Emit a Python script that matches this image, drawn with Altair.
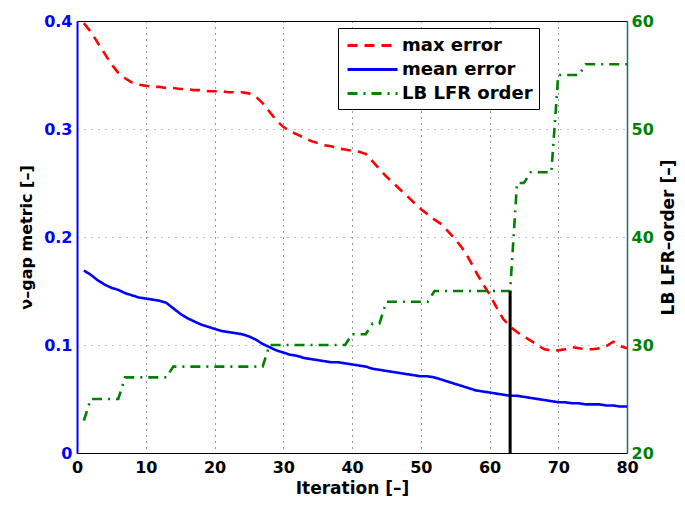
import altair as alt
import pandas as pd

iterations = list(range(1, 81))

max_error = [
    0.398, 0.390, 0.380, 0.370, 0.360, 0.352, 0.347, 0.343, 0.341, 0.340,
    0.339, 0.339, 0.338, 0.338, 0.337, 0.337, 0.336, 0.336, 0.335, 0.335,
    0.335, 0.334, 0.334, 0.334, 0.333, 0.330, 0.324, 0.316, 0.308, 0.302,
    0.298, 0.295, 0.292, 0.289, 0.287, 0.285, 0.284, 0.282, 0.281, 0.280,
    0.279, 0.277, 0.270, 0.263, 0.256, 0.250, 0.244, 0.238, 0.232, 0.226,
    0.221, 0.216, 0.212, 0.205, 0.198, 0.190, 0.180, 0.168, 0.157, 0.147,
    0.135, 0.124, 0.117, 0.112, 0.108, 0.104, 0.100, 0.096, 0.095, 0.095,
    0.096, 0.098, 0.097, 0.096, 0.096, 0.097, 0.099, 0.103, 0.099, 0.097,
]

mean_error = [
    0.169, 0.165, 0.160, 0.156, 0.153, 0.151, 0.148, 0.146, 0.144, 0.143,
    0.142, 0.141, 0.139, 0.134, 0.129, 0.125, 0.122, 0.119, 0.117, 0.115,
    0.113, 0.112, 0.111, 0.110, 0.108, 0.105, 0.101, 0.098, 0.095, 0.093,
    0.091, 0.090, 0.088, 0.087, 0.086, 0.085, 0.084, 0.084, 0.083, 0.082,
    0.081, 0.080, 0.078, 0.077, 0.076, 0.075, 0.074, 0.073, 0.072, 0.071,
    0.071, 0.070, 0.068, 0.066, 0.064, 0.062, 0.060, 0.058, 0.057, 0.056,
    0.055, 0.054, 0.053, 0.053, 0.052, 0.051, 0.050, 0.049, 0.048, 0.047,
    0.047, 0.046, 0.046, 0.045, 0.045, 0.045, 0.044, 0.044, 0.043, 0.043,
]

lfr_order = [
    23, 25, 25, 25, 25, 25, 27, 27, 27, 27,
    27, 27, 27, 28, 28, 28, 28, 28, 28, 28,
    28, 28, 28, 28, 28, 28, 28, 30, 30, 30,
    30, 30, 30, 30, 30, 30, 30, 30, 30, 31,
    31, 31, 32, 32, 34, 34, 34, 34, 34, 34,
    34, 35, 35, 35, 35, 35, 35, 35, 35, 35,
    35, 35, 35, 45, 45, 46, 46, 46, 46, 55,
    55, 55, 55, 56, 56, 56, 56, 56, 56, 56,
]

series_names = ["max error", "mean error", "LB LFR order"]
series_colors = ["#ff0000", "#0000ff", "#008000"]
series_dashes = [[10, 7], [1, 0], [10, 6, 2, 6]]

marker_iteration = [63]
marker_low = [20]
marker_high = [35]

FONT = "DejaVu Sans"

df_left = pd.DataFrame({
    "iteration": iterations * 2,
    "value": max_error + mean_error,
    "series": [series_names[0]] * len(iterations) + [series_names[1]] * len(iterations),
})
df_right = pd.DataFrame({
    "iteration": iterations,
    "value": lfr_order,
    "series": [series_names[2]] * len(iterations),
})
df_rule = pd.DataFrame({"iteration": marker_iteration, "lo": marker_low, "hi": marker_high})

legend = alt.Legend(
    orient="none", legendX=261, legendY=7, title=None,
    symbolType="M-1,0H4", symbolSize=400, symbolStrokeWidth=3, symbolOffset=2,
    labelFont=FONT, labelFontSize=18, labelFontWeight="bold", labelColor="black",
    labelOffset=33, strokeColor="black", fillColor="white", padding=6, rowPadding=3,
)
color_enc = alt.Color("series:N", scale=alt.Scale(domain=series_names, range=series_colors), legend=legend)
dash_enc = alt.StrokeDash("series:N", scale=alt.Scale(domain=series_names, range=series_dashes), legend=legend)

x_axis = alt.Axis(
    values=list(range(0, 81, 10)), title="Iteration [–]", labelFlush=False, labelOverlap=False,
    labelFont=FONT, labelFontSize=16, labelFontWeight="bold", labelColor="black", labelPadding=6,
    titleFont=FONT, titleFontSize=17, titleFontWeight="bold", titleColor="black", titlePadding=5,
    ticks=False, domainColor="black", domainWidth=1,
    grid=True, gridColor="black", gridDash=[1, 5], gridWidth=1,
    gridOpacity={"condition": {"test": "datum.value < 0.5 || datum.value > 79.5", "value": 0}, "value": 0.8},
)
x_enc = alt.X("iteration:Q", scale=alt.Scale(domain=[0, 80], nice=False, zero=False), axis=x_axis)

left_axis = alt.Axis(
    values=[0, 0.1, 0.2, 0.3, 0.4], title="ν–gap metric [–]", labelFlush=False, labelOverlap=False,
    labelExpr="datum.value == 0 ? '0' : format(datum.value, '.1f')",
    labelFont=FONT, labelFontSize=16, labelFontWeight="bold", labelColor="#0000ff", labelPadding=5,
    titleFont=FONT, titleFontSize=16, titleFontWeight="bold", titleColor="black", titlePadding=9,
    ticks=False, domainColor="#0000ff", domainWidth=2,
    grid=True, gridColor="#6f6fff", gridDash=[1, 6], gridWidth=1,
    gridOpacity={"condition": {"test": "datum.value < 0.001 || datum.value > 0.399", "value": 0}, "value": 0.9},
)
right_axis = alt.Axis(
    orient="right", values=[20, 30, 40, 50, 60], title="LB LFR–order [–]", labelFlush=False,
    labelOverlap=False, labelFont=FONT, labelFontSize=16, labelFontWeight="bold", labelColor="#008000",
    labelPadding=4, titleFont=FONT, titleFontSize=17, titleFontWeight="bold", titleColor="black",
    titlePadding=7, titleAngle=270, titleBaseline="top", ticks=False, domainColor="#236b74",
    domainWidth=1.5, grid=False,
)
right_scale = alt.Scale(domain=[20, 60], nice=False, zero=False)

left_lines = alt.Chart(df_left).mark_line(strokeWidth=2.6, strokeCap="butt").encode(
    x=x_enc,
    y=alt.Y("value:Q", scale=alt.Scale(domain=[0, 0.4], nice=False), axis=left_axis),
    color=color_enc,
    strokeDash=dash_enc,
)

green_line = alt.Chart(df_right).mark_line(strokeWidth=2.6, strokeCap="butt").encode(
    x=x_enc,
    y=alt.Y("value:Q", scale=right_scale, axis=right_axis),
    color=color_enc,
    strokeDash=dash_enc,
)
marker = alt.Chart(df_rule).mark_rule(color="black", strokeWidth=3).encode(
    x=x_enc,
    y=alt.Y("lo:Q", scale=right_scale, axis=right_axis),
    y2="hi:Q",
)
right_layer = alt.layer(green_line, marker)

chart = alt.layer(left_lines, right_layer).resolve_scale(y="independent").properties(
    width=550, height=432, padding={"left": 10, "top": 5, "right": 0, "bottom": 0}, background="white",
).configure(font=FONT).configure_view(stroke="black", strokeWidth=1)

chart.save("out.html", embed_options={"renderer": "svg", "actions": False})
